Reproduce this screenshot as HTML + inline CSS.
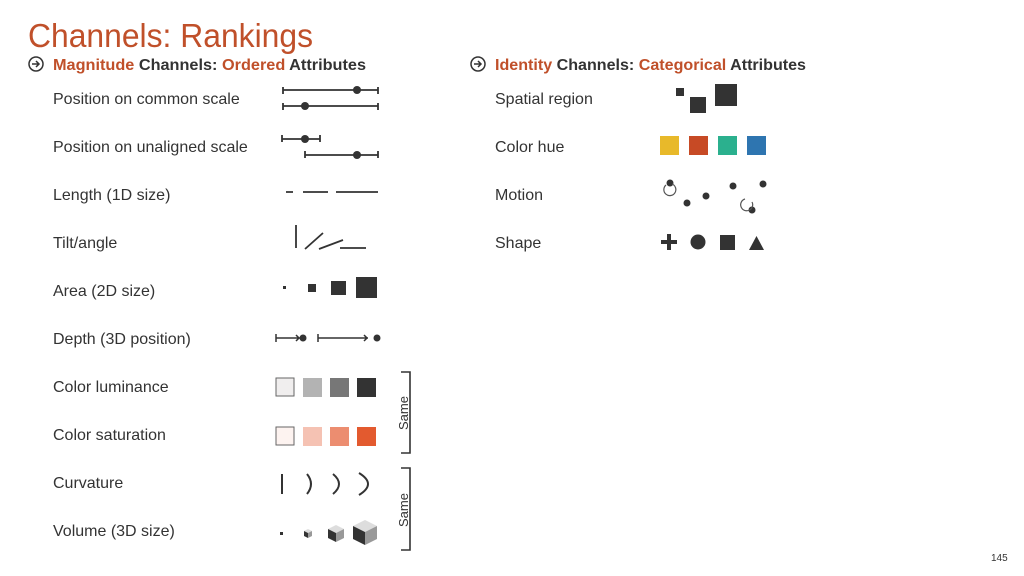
<!DOCTYPE html>
<html><head><style>
body{margin:0;background:#fff;}
svg{display:block;}
text{font-family:"Liberation Sans",sans-serif;}
</style></head><body>
<svg width="1024" height="576" viewBox="0 0 1024 576">
<text x="28" y="47" font-size="33" fill="#c0502a" textLength="285" lengthAdjust="spacingAndGlyphs">Channels: Rankings</text>
<g font-size="16" font-weight="bold" fill="#333">
<circle cx="36" cy="64" r="7" fill="none" stroke="#333" stroke-width="1.5"/><path d="M32 64h7M36 61l3 3-3 3" stroke="#333" stroke-width="1.5" fill="none"/>
<text x="53" y="70" textLength="313" lengthAdjust="spacingAndGlyphs"><tspan fill="#c0502a">Magnitude</tspan> Channels: <tspan fill="#c0502a">Ordered</tspan> Attributes</text>
<circle cx="478" cy="64" r="7" fill="none" stroke="#333" stroke-width="1.5"/><path d="M474 64h7M478 61l3 3-3 3" stroke="#333" stroke-width="1.5" fill="none"/>
<text x="495" y="70" textLength="311" lengthAdjust="spacingAndGlyphs"><tspan fill="#c0502a">Identity</tspan> Channels: <tspan fill="#c0502a">Categorical</tspan> Attributes</text>
</g>
<g font-size="16" fill="#333">
<text x="53" y="104">Position on common scale</text>
<text x="53" y="152">Position on unaligned scale</text>
<text x="53" y="200">Length (1D size)</text>
<text x="53" y="248">Tilt/angle</text>
<text x="53" y="296">Area (2D size)</text>
<text x="53" y="344">Depth (3D position)</text>
<text x="53" y="392">Color luminance</text>
<text x="53" y="440">Color saturation</text>
<text x="53" y="488">Curvature</text>
<text x="53" y="536">Volume (3D size)</text>
<text x="495" y="104">Spatial region</text>
<text x="495" y="152">Color hue</text>
<text x="495" y="200">Motion</text>
<text x="495" y="248">Shape</text>
</g>
<g stroke="#333" stroke-width="1.8" fill="#333">
<path d="M283 87v7M283 90h95M378 87v7M283 103v7M283 106h95M378 103v7"/>
<circle cx="357" cy="90" r="4" stroke="none"/><circle cx="305" cy="106" r="4" stroke="none"/>
<path d="M282 135v7M282 139h38M320 135v7M305 151v7M305 155h73M378 151v7"/>
<circle cx="305" cy="139" r="4" stroke="none"/><circle cx="357" cy="155" r="4" stroke="none"/>
<path d="M286 192h7M303 192h25M336 192h42"/>
<path d="M296 225v23M305 249l18-16M319 249l24-9M340 248h26"/>
</g>
<g fill="#333">
<rect x="283" y="286" width="3" height="3"/>
<rect x="308" y="284" width="8" height="8"/>
<rect x="331" y="281" width="15" height="14"/>
<rect x="356" y="277" width="21" height="21"/>
<path d="M276 334v8M276 338h24M296 335l3 3-3 3M318 334v8M318 338h50M364 335l3 3-3 3" stroke="#333" stroke-width="1.5" fill="none"/>
<circle cx="303" cy="338" r="3.5"/><circle cx="377" cy="338" r="3.5"/>
</g>
<rect x="276" y="378" width="18" height="18" fill="#f0eeee" stroke="#666" stroke-width="1"/>
<rect x="303" y="378" width="19" height="19" fill="#b3b3b3"/>
<rect x="330" y="378" width="19" height="19" fill="#777"/>
<rect x="357" y="378" width="19" height="19" fill="#333"/>
<rect x="276" y="427" width="18" height="18" fill="#fdf3f0" stroke="#666" stroke-width="1"/>
<rect x="303" y="427" width="19" height="19" fill="#f5c2b3"/>
<rect x="330" y="427" width="19" height="19" fill="#ec8d70"/>
<rect x="357" y="427" width="19" height="19" fill="#e35a2f"/>
<g stroke="#333" stroke-width="2" fill="none">
<path d="M282 474v20"/>
<path d="M307 474q8 10 0 20"/>
<path d="M333 474q12 10 0 20"/>
<path d="M359 473q18 11 0 22"/>
</g>
<rect x="280" y="532" width="3" height="3" fill="#333"/>
<g transform="translate(304,535)"><path d="M0-4l4-2 4 2-4 2z" fill="#ddd"/><path d="M0-4l4 2v5l-4-2z" fill="#333"/><path d="M8-4l-4 2v5l4-2z" fill="#999"/></g>
<g transform="translate(328,535)"><path d="M0-6l8-4 8 4-8 4z" fill="#ddd"/><path d="M0-6l8 4v9l-8-4z" fill="#333"/><path d="M16-6l-8 4v9l8-4z" fill="#999"/></g>
<g transform="translate(353,534)"><path d="M0-8l12-6 12 6-12 6z" fill="#ddd"/><path d="M0-8l12 6v13l-12-6z" fill="#333"/><path d="M24-8l-12 6v13l12-6z" fill="#999"/></g>
<g stroke="#333" stroke-width="1.6" fill="none">
<path d="M401 372h9v81h-9"/>
<path d="M401 468h9v82h-9"/>
</g>
<text transform="translate(408,413) rotate(-90)" font-size="13" fill="#333" text-anchor="middle">Same</text>
<text transform="translate(408,510) rotate(-90)" font-size="13" fill="#333" text-anchor="middle">Same</text>
<g fill="#333">
<rect x="676" y="88" width="8" height="8"/>
<rect x="690" y="97" width="16" height="16"/>
<rect x="715" y="84" width="22" height="22"/>
</g>
<rect x="660" y="136" width="19" height="19" fill="#e8b92a"/>
<rect x="689" y="136" width="19" height="19" fill="#c74a25"/>
<rect x="718" y="136" width="19" height="19" fill="#2bb08e"/>
<rect x="747" y="136" width="19" height="19" fill="#2e75b0"/>
<g fill="#333">
<circle cx="670" cy="183" r="3.5"/><circle cx="687" cy="203" r="3.5"/><circle cx="706" cy="196" r="3.5"/>
<circle cx="733" cy="186" r="3.5"/><circle cx="763" cy="184" r="3.5"/><circle cx="752" cy="210" r="3.5"/>
</g>
<path d="M666 185a6 6 0 1 0 6 -1" stroke="#555" stroke-width="1.2" fill="none"/>
<path d="M745 199a6 6 0 1 0 7 3" stroke="#555" stroke-width="1.2" fill="none"/>
<g fill="#333">
<path d="M661 240h16v4h-16zM667 234h4v16h-4z"/>
<circle cx="698" cy="242" r="7.5"/>
<rect x="720" y="235" width="15" height="15"/>
<path d="M749 250l7.5-14 7.5 14z"/>
</g>
<text x="991" y="561" font-size="10" fill="#333">145</text>
</svg>
</body></html>
